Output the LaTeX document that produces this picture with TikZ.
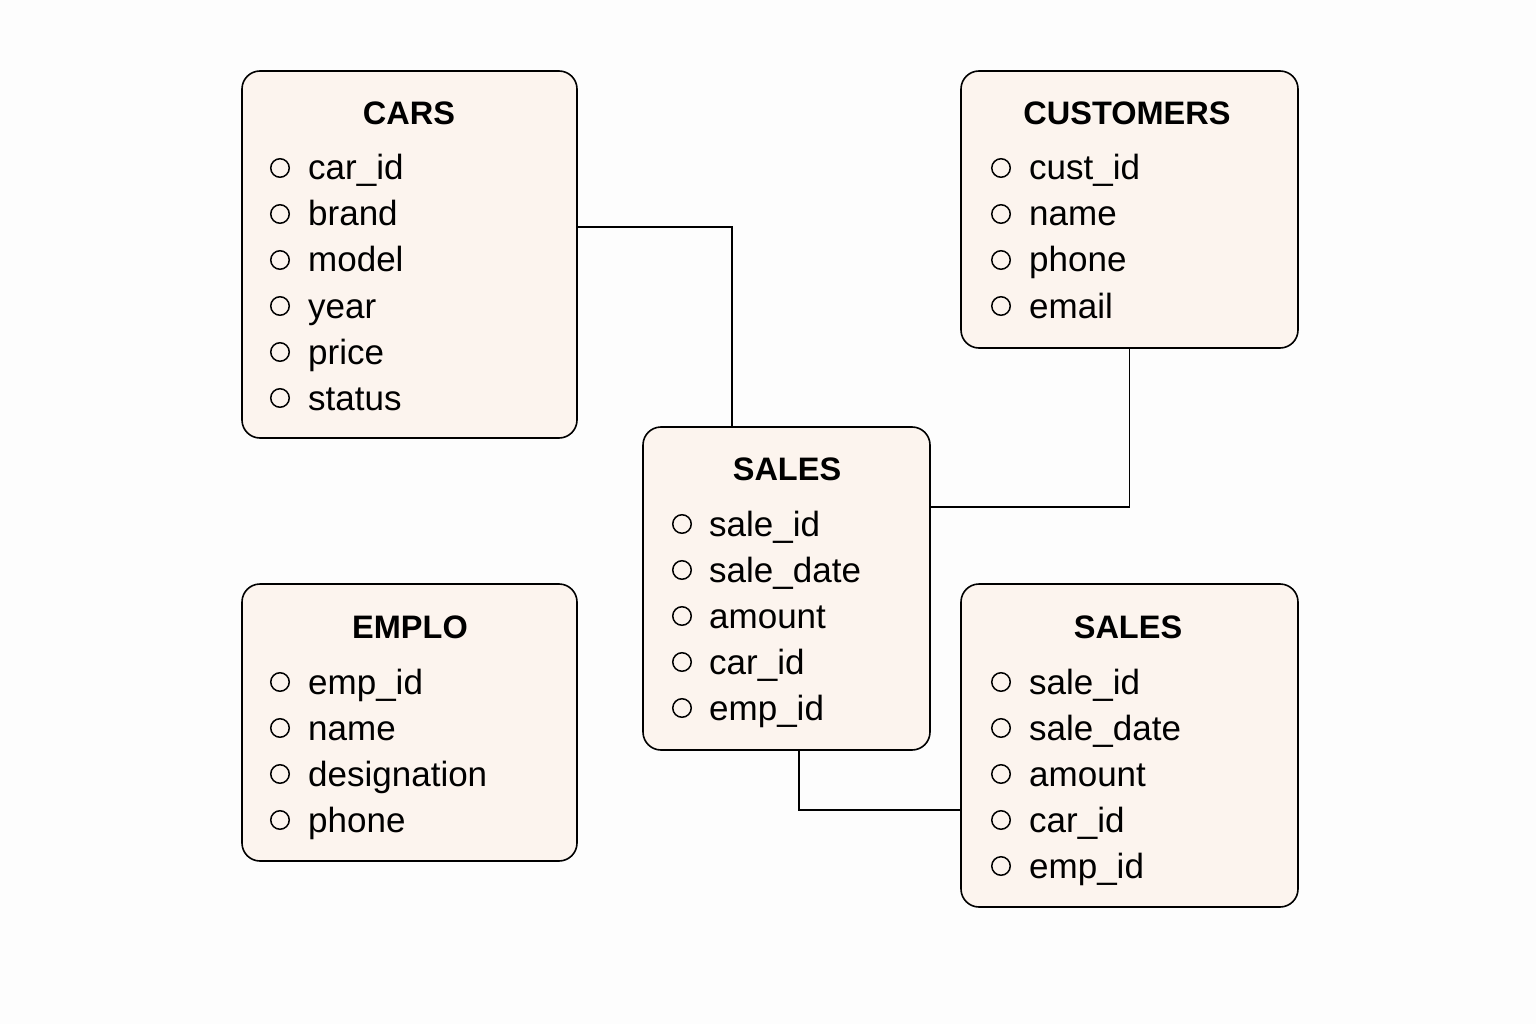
\documentclass[tikz,border=0pt]{standalone}
\usepackage{fontspec}
\setmainfont{Liberation Sans}
\definecolor{boxfill}{HTML}{FCF4EE}
\definecolor{bgc}{HTML}{FDFDFD}
\begin{document}
\begin{tikzpicture}[x=1pt,y=-1pt,
 tbl/.style={draw=black, line width=1.6pt, rounded corners=18pt, fill=boxfill, inner sep=0pt},
 ttl/.style={anchor=base, inner sep=0pt, font=\fontsize{32.5}{38}\selectfont\bfseries},
 itm/.style={anchor=base west, inner sep=0pt, font=\fontsize{35}{40}\selectfont},
 dot/.style={circle, draw=black, line width=1.5pt, minimum size=18.5pt, inner sep=0pt},
 link/.style={draw=black, line width=1.5pt}]
\fill[bgc] (0,0) rectangle (1536,1024);
\useasboundingbox (0,0) rectangle (1536,1024);

% tables
\node[tbl, minimum width=335pt, minimum height=367pt] (cars) at (409.5,254.5) {};
\node[tbl, minimum width=337pt, minimum height=277pt] (cust) at (1129.5,209.5) {};
\node[tbl, minimum width=287pt, minimum height=323pt] (sales) at (786.5,588.5) {};
\node[tbl, minimum width=335pt, minimum height=277pt] (emp) at (409.5,722.5) {};
\node[tbl, minimum width=337pt, minimum height=323pt] (sales2) at (1129.5,745.5) {};

% titles
\node[ttl] (carsT) at (409,125) {CARS};
\node[ttl] (custT) at (1127,125) {CUSTOMERS};
\node[ttl] (salesT) at (787,480) {SALES};
\node[ttl] (empT) at (410,638) {EMPLO};
\node[ttl] (sales2T) at (1128,638) {SALES};

% items
\foreach \t [count=\i] in {car\_id,brand,model,year,price,status} {
  \node[dot] (carsD\i) at (280,{168+46*(\i-1)}) {};
  \node[itm] (carsI\i) at (308,{180+46*(\i-1)}) {\t};
}
\foreach \t [count=\i] in {cust\_id,name,phone,email} {
  \node[dot] (custD\i) at (1001,{168+46*(\i-1)}) {};
  \node[itm] (custI\i) at (1029,{180+46*(\i-1)}) {\t};
}
\foreach \t [count=\i] in {sale\_id,sale\_date,amount,car\_id,emp\_id} {
  \node[dot] (salesD\i) at (682,{524+46*(\i-1)}) {};
  \node[itm] (salesI\i) at (709,{536+46*(\i-1)}) {\t};
}
\foreach \t [count=\i] in {emp\_id,name,designation,phone} {
  \node[dot] (empD\i) at (280,{682+46*(\i-1)}) {};
  \node[itm] (empI\i) at (308,{694+46*(\i-1)}) {\t};
}
\foreach \t [count=\i] in {sale\_id,sale\_date,amount,car\_id,emp\_id} {
  \node[dot] (sales2D\i) at (1001,{682+46*(\i-1)}) {};
  \node[itm] (sales2I\i) at (1029,{694+46*(\i-1)}) {\t};
}

% connectors
\draw[link] ([yshift=27.5pt]cars.east) -| ([xshift=-54.5pt]sales.north);
\draw[link] ([yshift=81.5pt]sales.east) -| (cust.south);
\draw[link] ([xshift=12.5pt]sales.south) |- ([yshift=-64.5pt]sales2.west);
\end{tikzpicture}
\end{document}
